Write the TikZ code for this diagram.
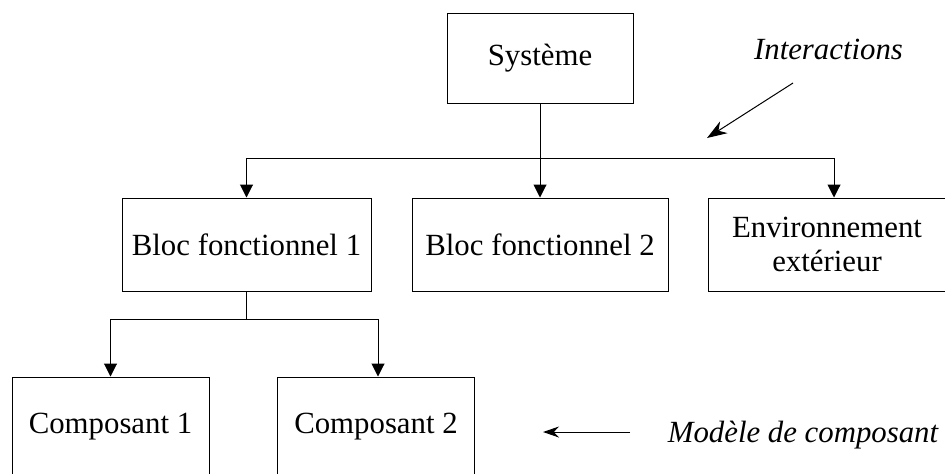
\documentclass[tikz,border=0pt]{standalone}
\usepackage{fontspec}
\setmainfont{Liberation Serif}
\usetikzlibrary{arrows.meta,calc}
\tikzset{>={Triangle[length=6.5pt,width=6.5pt]}}
\tikzset{bloc/.style={draw,inner sep=0pt,minimum height=46.5pt,align=center}}
\newcommand*{\txt}{\fontsize{15.4}{17.4}\selectfont}

\begin{document}
\begin{tikzpicture}[x=0.5pt,y=-0.5pt,line width=0.5pt,font=\txt]
\clip (0,0) rectangle (945,473);
% Boxes of the tree
\node[bloc,minimum width=93pt,minimum height=45pt] (sys) at (540,58) {Système};
\node[bloc,minimum width=124.5pt] (bloc1) at (246.5,244.5) {Bloc fonctionnel 1};
\node[bloc,minimum width=128pt] (bloc2) at (540,244.5) {Bloc fonctionnel 2};
\node[bloc,minimum width=119pt] (env) at (827,244.5) {Environnement\\extérieur};
\node[bloc,minimum width=98.5pt,minimum height=50pt] (comp1) at (110.5,427) {Composant 1};
\node[bloc,minimum width=98.5pt,minimum height=50pt] (comp2) at (376,427) {Composant 2};

% Système down to its blocks
\coordinate (j1) at (540,158);
\draw (sys.south) -- (j1);
\draw[->] (j1) -- (bloc2.north);
\draw[->] (j1) -| (bloc1.north);
\draw[->] (j1) -| ([xshift=3.5pt]env.north);

% Bloc 1 down to its components
\coordinate (j2) at (246.5,319);
\draw (bloc1.south) -- (j2);
\draw[->] (j2) -| (comp1.north);
\draw[->] (j2) -| ([xshift=1pt]comp2.north);

% Side labels
\node[anchor=base,font=\txt\itshape] (inter) at (828.5,59) {Interactions};
\coordinate (i1) at (793,83);
\coordinate (i2) at (707,138);
\draw[-{Stealth[length=10pt,width=7pt]}] (i1) -- (i2);

\node[anchor=base,font=\txt\itshape] (mod) at (803,442) {Modèle de composant};
\coordinate (m1) at (630,432);
\coordinate (m2) at (543,432);
\draw[-{Stealth[length=8pt,width=5.5pt]}] (m1) -- (m2);
\end{tikzpicture}
\end{document}
